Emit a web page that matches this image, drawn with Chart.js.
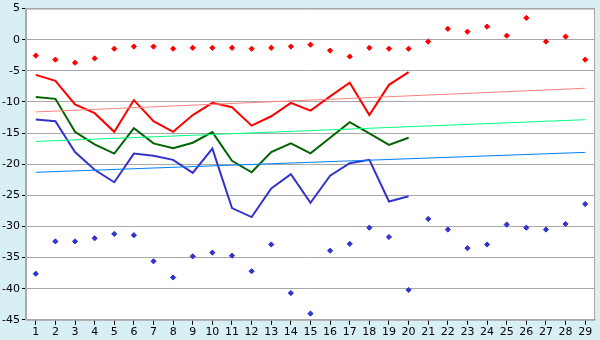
<!DOCTYPE html>
<html>
<head>
<meta charset="utf-8">
<script src="https://cdn.jsdelivr.net/npm/chart.js@4"></script>
<style>
  html, body { margin: 0; padding: 0; background: #d8eff6; }
  #wrap { width: 600px; height: 340px; }
</style>
</head>
<body>
<div id="wrap"><canvas id="chart"></canvas></div>
<script>
"use strict";

// ── Data ─────────────────────────────────────────────
const labels = Array.from({ length: 29 }, (_, i) => String(i + 1));

const redDots = [-2.55, -3.2, -3.7, -3.0, -1.45, -1.1, -1.1, -1.45, -1.3, -1.3,
  -1.3, -1.45, -1.3, -1.1, -0.8, -1.75, -2.7, -1.3, -1.45, -1.45,
  -0.3, 1.75, 1.3, 2.1, 0.65, 3.5, -0.3, 0.5, -3.2];

const blueDots = [-37.6, -32.4, -32.4, -31.9, -31.2, -31.4, -35.6, -38.2, -34.8, -34.2,
  -34.7, -37.2, -32.9, -40.7, -44.0, -33.9, -32.8, -30.2, -31.7, -40.2,
  -28.8, -30.5, -33.5, -32.9, -29.7, -30.2, -30.5, -29.6, -26.4];

const redLine = [-5.65, -6.6, -10.4, -11.8, -14.8, -9.7, -13.1, -14.8, -12.1, -10.15,
  -10.85, -13.8, -12.3, -10.15, -11.4, -9.1, -6.9, -12.1, -7.25, -5.2];

const greenLine = [-9.2, -9.5, -14.8, -16.8, -18.3, -14.2, -16.65, -17.45, -16.55, -14.85,
  -19.45, -21.3, -18.05, -16.65, -18.25, -15.75, -13.25, -15.05, -16.9, -15.75];

const blueLine = [-12.8, -13.1, -18.05, -20.9, -22.9, -18.3, -18.65, -19.3, -21.4, -17.5,
  -27.05, -28.5, -23.9, -21.6, -26.2, -21.85, -19.85, -19.3, -26.0, -25.15];

// trend lines: start / end values (at 1 and 29)
const redTrend   = [-11.6, -7.8];
const greenTrend = [-16.35, -12.85];
const blueTrend  = [-21.3, -18.1];

const yTicks = { min: -45, max: 5, step: 5 };

// ── Helpers ──────────────────────────────────────────
function trend(ends) {
  const d = new Array(labels.length).fill(null);
  d[0] = ends[0];
  d[labels.length - 1] = ends[1];
  return d;
}

const lineSet = (data, color) => ({
  data, borderColor: color, borderWidth: 2, pointRadius: 0, tension: 0, fill: false,
});
const trendSet = (ends, color) => ({
  data: trend(ends), borderColor: color, borderWidth: 1, pointRadius: 0,
  spanGaps: true, fill: false,
});
const dotSet = (data, color) => ({
  data, showLine: false, pointStyle: "rectRot", pointRadius: 2.6,
  pointBackgroundColor: color, pointBorderColor: color, borderColor: color,
});

// ── Background + plot frame ─────────────────────────
const frame = {
  id: "frame",
  beforeDraw(chart) {
    const { ctx, chartArea: a } = chart;
    ctx.save();
    ctx.fillStyle = "#d8eff6";
    ctx.fillRect(0, 0, chart.width, chart.height);
    ctx.fillStyle = "#ffffff";
    ctx.fillRect(a.left, a.top, a.right - a.left, a.bottom - a.top);
    ctx.restore();
  },
  afterDraw(chart) {
    const { ctx, chartArea: a } = chart;
    ctx.save();
    ctx.strokeStyle = "#a8a8a8";
    ctx.lineWidth = 1;
    ctx.strokeRect(a.left + 0.5, a.top + 0.5, a.right - a.left - 1, a.bottom - a.top);
    ctx.restore();
  },
};

new Chart(el("chart"), {
  type: "line",
  data: {
    labels,
    datasets: [
      trendSet(redTrend, "#ff8080"),
      trendSet(greenTrend, "#00ff80"),
      trendSet(blueTrend, "#0080ff"),
      lineSet(redLine, "#ff0000"),
      lineSet(greenLine, "#006400"),
      lineSet(blueLine, "#3333cc"),
      dotSet(redDots, "#ff0000"),
      dotSet(blueDots, "#3333cc"),
    ],
  },
  options: {
    responsive: true,
    maintainAspectRatio: false,
    animation: false,
    layout: { padding: { top: -3, right: 5, left: 0, bottom: 0 } },
    plugins: { legend: { display: false }, tooltip: { enabled: false } },
    scales: {
      x: {
        offset: true,
        grid: { drawOnChartArea: false, tickLength: 5, tickColor: "#000", offset: false },
        border: { color: "#a8a8a8" },
        ticks: { color: "#000", font: { family: "DejaVu Sans", size: 11 }, padding: 1,
                 maxRotation: 0, autoSkip: false },
      },
      y: {
        min: yTicks.min, max: yTicks.max,
        grid: { color: "#a8a8a8", tickLength: 4, tickColor: "#000" },
        border: { color: "#a8a8a8" },
        ticks: { stepSize: yTicks.step, color: "#000", padding: 2,
                 font: { family: "DejaVu Sans", size: 11 } },
      },
    },
  },
  plugins: [frame],
});

function el(id) { return document.getElementById(id); }
</script>
</body>
</html>
